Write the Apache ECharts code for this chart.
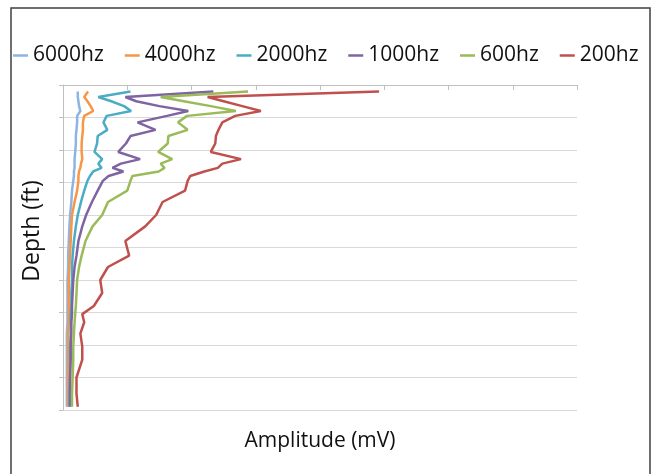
<!DOCTYPE html>
<html>
<head>
<meta charset="utf-8">
<script src="https://cdn.jsdelivr.net/npm/echarts@6/dist/echarts.min.js"></script>
<style>
  html, body { margin: 0; padding: 0; background: #fff; }
  #main { width: 652px; height: 474px; }
</style>
</head>
<body>
<div id="main"></div>
<script>
// depth samples (top = 0), shared by every series
const depth = [2, 3.7, 5, 6.5, 8, 9.5, 11.5, 13.8, 15.7, 18, 20.6, 22.8, 24.2, 25.5, 26.6, 28, 29.5, 32.5,
    36, 40, 43.5, 48, 52.5, 56, 60, 64, 68, 70.5, 73, 76.5, 80.5, 84.5, 90, 95, 99]

// amplitude, one value per depth
const amp6000 = [0.23, 0.23, 0.24, 0.25, 0.27, 0.22, 0.22, 0.21, 0.2, 0.2, 0.19, 0.18, 0.18, 0.18, 0.17, 0.17, 0.16, 0.14,
    0.13, 0.11, 0.1, 0.09, 0.08, 0.08, 0.07, 0.07, 0.07, 0.07, 0.07, 0.06, 0.06, 0.06, 0.06, 0.06, 0.06]
const amp4000 = [0.39, 0.33, 0.38, 0.43, 0.47, 0.33, 0.31, 0.31, 0.3, 0.29, 0.29, 0.3, 0.28, 0.27, 0.25, 0.24, 0.24, 0.22,
    0.18, 0.14, 0.13, 0.12, 0.11, 0.1, 0.09, 0.09, 0.09, 0.09, 0.09, 0.08, 0.08, 0.08, 0.08, 0.08, 0.08]
const amp2000 = [1.05, 0.55, 0.75, 0.95, 1.06, 0.68, 0.63, 0.69, 0.54, 0.53, 0.49, 0.61, 0.55, 0.6, 0.47, 0.42, 0.38, 0.33,
    0.28, 0.23, 0.2, 0.17, 0.15, 0.14, 0.14, 0.13, 0.13, 0.12, 0.12, 0.12, 0.11, 0.11, 0.11, 0.1, 0.1]
const amp1000 = [2.34, 0.97, 1.14, 1.5, 1.95, 1.62, 1.16, 1.44, 1.05, 0.98, 0.86, 1.2, 0.9, 0.77, 0.94, 0.71, 0.62, 0.54,
    0.45, 0.36, 0.3, 0.24, 0.21, 0.18, 0.16, 0.15, 0.14, 0.14, 0.13, 0.13, 0.12, 0.12, 0.11, 0.11, 0.11]
const amp600 = [2.88, 1.52, 1.88, 2.3, 2.69, 1.93, 1.79, 1.94, 1.64, 1.63, 1.48, 1.7, 1.52, 1.58, 1.49, 1.08, 1.05, 1.0,
    0.7, 0.61, 0.46, 0.35, 0.29, 0.25, 0.22, 0.21, 0.2, 0.19, 0.18, 0.17, 0.16, 0.16, 0.15, 0.14, 0.14]
const amp200 = [4.92, 2.25, 2.5, 2.79, 3.08, 2.68, 2.48, 2.42, 2.38, 2.37, 2.3, 2.77, 2.48, 2.41, 2.2, 1.98, 1.94, 1.9,
    1.55, 1.45, 1.28, 0.97, 1.03, 0.7, 0.58, 0.61, 0.48, 0.3, 0.33, 0.27, 0.3, 0.3, 0.21, 0.21, 0.23]

const names = ['6000hz', '4000hz', '2000hz', '1000hz', '600hz', '200hz']
const amps = [amp6000, amp4000, amp2000, amp1000, amp600, amp200]
const colors = ['#8EB4E3', '#F79646', '#4BACC6', '#8064A2', '#9BBB59', '#C0504D']

const font = '"Open Sans", "Noto Sans", sans-serif'

const myChart = echarts.init(document.getElementById('main'))

myChart.setOption({
    animation: false,
    color: colors,
    textStyle: { fontFamily: font },
    legend: {
        left: 8,
        top: 40,
        icon: 'rect',
        itemWidth: 15,
        itemHeight: 2.5,
        itemGap: 21,
        textStyle: { fontSize: 21, color: '#111', fontFamily: font },
        data: names
    },
    grid: { left: 63, right: 75, top: 85, bottom: 64 },
    xAxis: {
        type: 'value',
        min: 0,
        max: 8,
        interval: 1,
        name: 'Amplitude (mV)',
        nameLocation: 'middle',
        nameGap: 21,
        nameTextStyle: { fontSize: 21, color: '#111' },
        axisLine: { lineStyle: { color: '#BFBFBF', width: 1 } },
        axisTick: { show: true, length: 5, lineStyle: { color: '#BFBFBF' } },
        axisLabel: { show: false },
        splitLine: { show: false }
    },
    yAxis: {
        type: 'value',
        inverse: true,
        min: 0,
        max: 100,
        interval: 10,
        axisLine: { show: true, lineStyle: { color: '#BFBFBF', width: 1 } },
        axisTick: { show: true, length: 4, lineStyle: { color: '#BFBFBF' } },
        axisLabel: { show: false },
        splitLine: { show: true, lineStyle: { color: '#D9D9D9', width: 1 } }
    },
    graphic: [
        {
            type: 'rect',
            shape: { x: 11, y: 8, width: 639, height: 480 },
            style: { fill: 'none', stroke: '#404040', lineWidth: 1.5 },
            silent: true
        },
        {
            type: 'text',
            x: 32,
            y: 231,
            rotation: Math.PI / 2,
            style: {
                text: 'Depth (ft)',
                font: '23px ' + font,
                fill: '#111',
                align: 'center',
                verticalAlign: 'middle'
            }
        }
    ],
    series: names.map(function (n, i) {
        return {
            name: n,
            type: 'line',
            showSymbol: false,
            smooth: false,
            lineStyle: { width: 2.5 },
            data: depth.map(function (d, j) {
                return [amps[i][j], d]
            })
        }
    })
})
</script>
</body>
</html>
